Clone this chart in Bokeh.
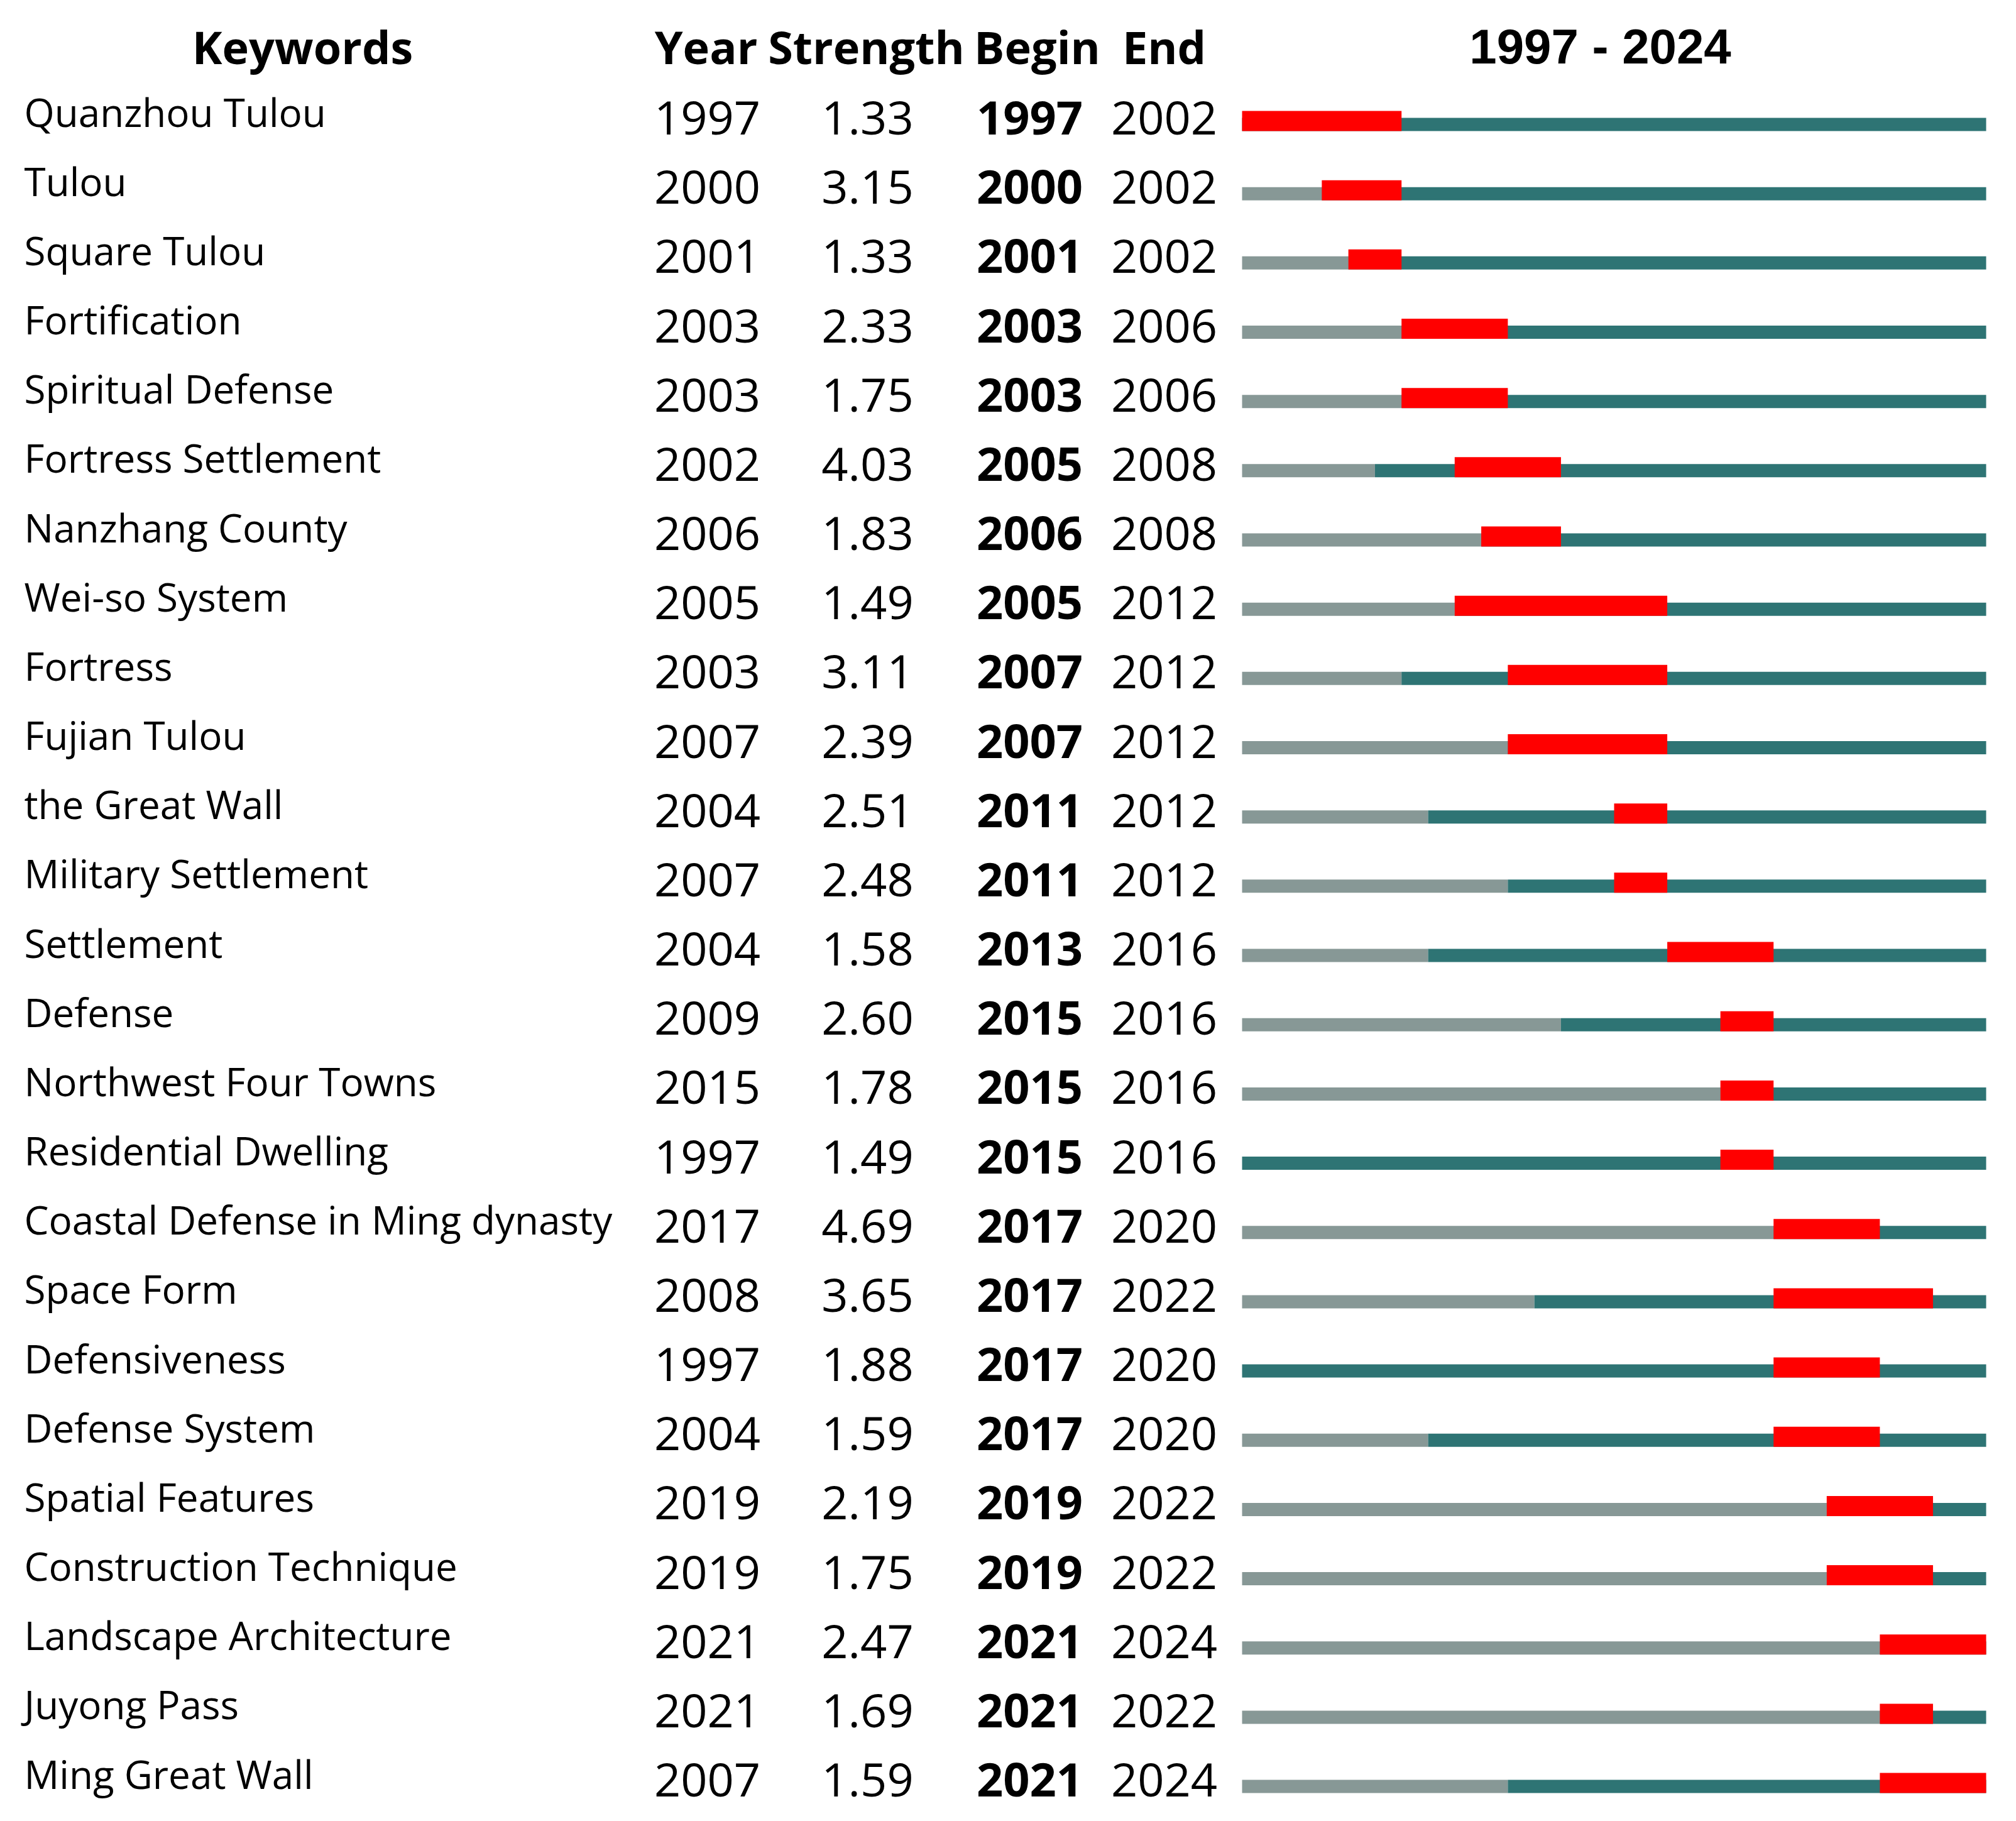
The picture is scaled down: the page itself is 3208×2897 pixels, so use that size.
from bokeh.plotting import figure
from bokeh.models import Range1d, ColumnDataSource
from bokeh.core.properties import value
from bokeh.embed import file_html
from bokeh.resources import INLINE

# ---------------- data ----------------
keywords = ["Quanzhou Tulou", "Tulou", "Square Tulou", "Fortification", "Spiritual Defense",
            "Fortress Settlement", "Nanzhang County", "Wei-so System", "Fortress", "Fujian Tulou",
            "the Great Wall", "Military Settlement", "Settlement", "Defense", "Northwest Four Towns",
            "Residential Dwelling", "Coastal Defense in Ming dynasty", "Space Form", "Defensiveness",
            "Defense System", "Spatial Features", "Construction Technique", "Landscape Architecture",
            "Juyong Pass", "Ming Great Wall"]
years = [1997, 2000, 2001, 2003, 2003, 2002, 2006, 2005, 2003, 2007, 2004, 2007, 2004, 2009, 2015,
         1997, 2017, 2008, 1997, 2004, 2019, 2019, 2021, 2021, 2007]
strengths = [1.33, 3.15, 1.33, 2.33, 1.75, 4.03, 1.83, 1.49, 3.11, 2.39, 2.51, 2.48, 1.58, 2.60, 1.78,
             1.49, 4.69, 3.65, 1.88, 1.59, 2.19, 1.75, 2.47, 1.69, 1.59]
begins = [1997, 2000, 2001, 2003, 2003, 2005, 2006, 2005, 2007, 2007, 2011, 2011, 2013, 2015, 2015,
          2015, 2017, 2017, 2017, 2017, 2019, 2019, 2021, 2021, 2021]
ends = [2002, 2002, 2002, 2006, 2006, 2008, 2008, 2012, 2012, 2012, 2012, 2012, 2016, 2016, 2016,
        2016, 2020, 2022, 2020, 2020, 2022, 2022, 2024, 2022, 2024]
first_year, last_year = 1997, 2024
headers = ["Keywords", "Year", "Strength", "Begin", "End"]
period_label = f"{first_year} - {last_year}"

# ---------------- layout ----------------
W, H = 3192, 2885
ORIGIN = 0
ROW = 110.17          # px per row
ROW0 = 208            # page y of first row's bar bottom
BAR_L, BAR_R = 1976, 3160   # page x of the timeline
TXT_SHIFT = -25 / ROW  # empirical baseline correction

FONT = "Open Sans"
PX_YEAR = (BAR_R - BAR_L) / (last_year + 1 - first_year)
yr_start = first_year - (BAR_L - ORIGIN) / PX_YEAR
yr_end = first_year + (ORIGIN + W - BAR_L) / PX_YEAR

p = figure(width=W, height=H, output_backend="svg", toolbar_location=None,
           x_range=Range1d(ORIGIN, ORIGIN + W),
           y_range=Range1d((ORIGIN + H - ROW0) / ROW, (ORIGIN - ROW0) / ROW),
           min_border=0, outline_line_color=None)
p.extra_x_ranges = {"yr": Range1d(yr_start, yr_end)}
p.xaxis.visible = False
p.yaxis.visible = False
p.grid.visible = False
p.background_fill_color = "white"
p.border_fill_color = "white"

n = len(keywords)
rows = list(range(n))
THIN = 21 / ROW
THICK = 32 / ROW

GRAY = "#879896"
TEAL = "#2E7474"
RED = "#FF0000"

src = ColumnDataSource(dict(
    row=rows,
    thin_top=[r - THIN for r in rows],
    thick_top=[r - THICK for r in rows],
    start=[first_year] * n,
    year=years,
    stop=[last_year + 1] * n,
    begin=begins,
    end1=[e + 1 for e in ends],
    kw=keywords,
    year_s=[str(y) for y in years],
    str_s=[f"{s:.2f}" for s in strengths],
    begin_s=[str(b) for b in begins],
    end_s=[str(e) for e in ends],
    kw_y=[r - 6 / ROW + TXT_SHIFT for r in rows],
    num_y=[r + 4 / ROW + TXT_SHIFT for r in rows],
))

# bars
p.quad(left="start", right="year", top="thin_top", bottom="row", source=src,
       x_range_name="yr", fill_color=GRAY, line_color=None)
p.quad(left="year", right="stop", top="thin_top", bottom="row", source=src,
       x_range_name="yr", fill_color=TEAL, line_color=None)
p.quad(left="begin", right="end1", top="thick_top", bottom="row", source=src,
       x_range_name="yr", fill_color=RED, line_color=None)

# table texts
NUM_SIZE = "74px"
p.text(x=38, y="kw_y", text="kw", source=src, text_font=value(FONT), text_font_size="62px",
       text_align="left", text_baseline="alphabetic", text_color="black")
p.text(x=1125, y="num_y", text="year_s", source=src, text_font=value(FONT), text_font_size=NUM_SIZE,
       text_align="center", text_baseline="alphabetic", text_color="black")
p.text(x=1380, y="num_y", text="str_s", source=src, text_font=value(FONT), text_font_size=NUM_SIZE,
       text_align="center", text_baseline="alphabetic", text_color="black")
p.text(x=1638, y="num_y", text="begin_s", source=src, text_font=value(FONT), text_font_size=NUM_SIZE,
       text_font_style="bold", text_align="center", text_baseline="alphabetic", text_color="black")
p.text(x=1852, y="num_y", text="end_s", source=src, text_font=value(FONT), text_font_size=NUM_SIZE,
       text_align="center", text_baseline="alphabetic", text_color="black")

# headers
head_y = (98 - ROW0) / ROW + TXT_SHIFT
p.text(x=[481, 1123, 1378, 1650, 1852], y=[head_y] * 5, text=headers, text_font=value(FONT),
       text_font_size="72px", text_font_style="bold", text_align="center",
       text_baseline="alphabetic", text_color="black")
p.text(x=[2546], y=[head_y], text=[period_label], text_font=value("Liberation Sans"),
       text_font_size="78px", text_font_style="bold", text_align="center",
       text_baseline="alphabetic", text_color="black")

open("out.html", "w").write(file_html(p, INLINE))
